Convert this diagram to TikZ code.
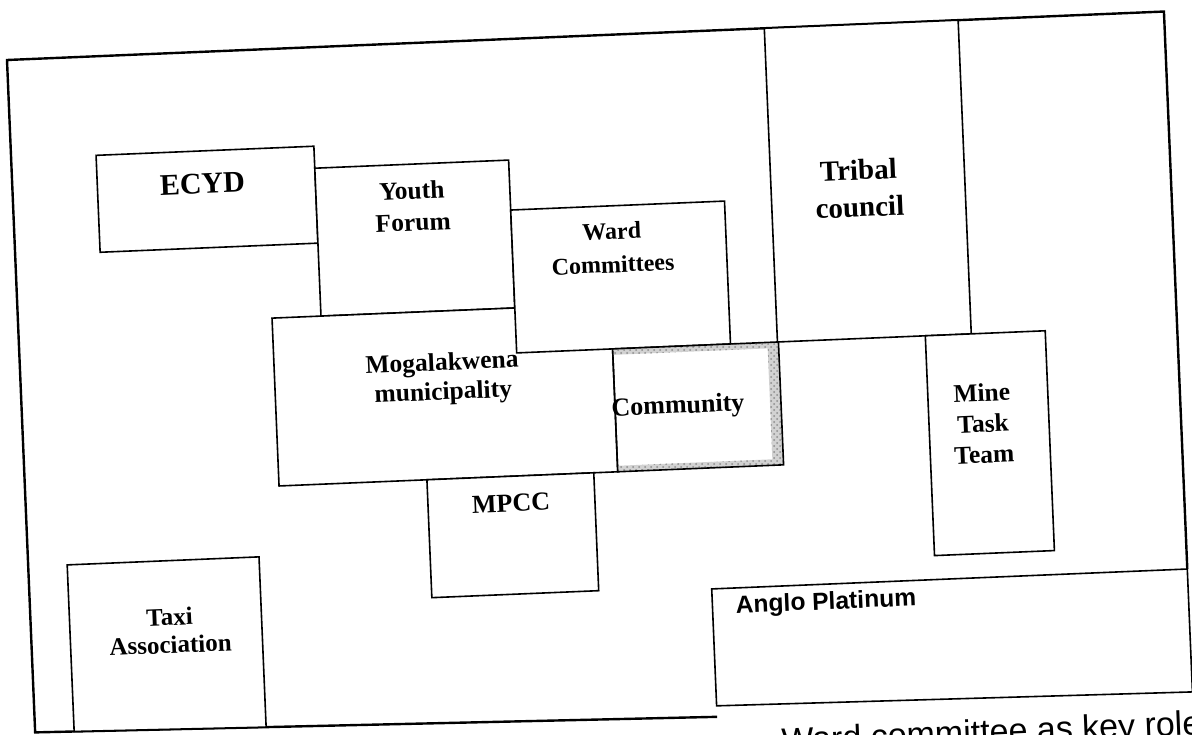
\documentclass[tikz,border=0pt]{standalone}
\usepackage{fontspec}
\setmainfont{Liberation Serif}
\newfontfamily\arialfont{Liberation Sans}
\usepackage{tikz}
\usetikzlibrary{positioning,patterns}

\begin{document}
\begin{tikzpicture}[x=0.5pt,y=-0.5pt,
        box/.style={draw,line width=0.8pt,fill=white},
        frame/.style={draw,line width=1.2pt},
        lbl/.style={align=center,inner sep=0pt,font=\bfseries\fontsize{12.75}{16}\selectfont}]
    \path[use as bounding box,clip] (-7,-60) rectangle (1185,674);
    \begin{scope}[rotate=2.4,transform shape]
        % outer frame (its bottom runs in under Anglo Platinum)
        \draw[frame] (682,686) -- (0,673) -- (0,0) -- (1158,0) -- (1158,558);
        % boxes
        \draw[box] (758,0) rectangle (952,314);
        \draw[box] (85,99) rectangle (303,196);
        \draw[box] (303,121) rectangle (497,269);
        \draw[box] (254,269) rectangle (593,437);
        \draw[box] (497,171) rectangle (711,314);
        \fill[gray!35,even odd rule] (593,314) rectangle (759,437) (593,320) rectangle (748,431);
        \fill[pattern=crosshatch dots,pattern color=gray!90,even odd rule] (593,314) rectangle (759,437) (593,320) rectangle (748,431);
        \draw[line width=0.8pt] (593,314) rectangle (759,437);
        \draw[box] (402,437) rectangle (569,555);
        \draw[box] (39,507) -- (231,507) -- (231,677.4) -- (39,673.7) -- cycle;
        \draw[box] (906,314) rectangle (1026,534);
        \draw[box] (682,558) -- (1158,558) -- (1158,681) -- (682,675) -- cycle;

        % labels
        \node[lbl,font=\bfseries\fontsize{15}{18}\selectfont] (ecyd) at (190,132) {ECYD};
        \node[lbl] (youth) at (399,163) {Youth\\Forum};
        \node[lbl,font=\bfseries\fontsize{12}{16.5}\selectfont] (ward) at (597,213) {Ward\\Committees};
        \node[lbl,font=\bfseries\fontsize{14.5}{18.5}\selectfont] (tribal) at (846,164) {Tribal\\council};
        \node[lbl,font=\bfseries\fontsize{12.75}{14.6}\selectfont] (mog) at (422,337) {Mogalakwena\\municipality};
        \node[lbl,font=\bfseries\fontsize{13}{16}\selectfont] (comm) at (656,375) {Community};
        \node[lbl,font=\bfseries\fontsize{13}{16}\selectfont] (mpcc) at (485,464) {MPCC};
        \node[lbl,font=\bfseries\fontsize{12.5}{14}\selectfont] (taxi) at (139,577) {Taxi\\Association};
        \node[lbl,font=\bfseries\fontsize{12.75}{15.5}\selectfont] (mtt) at (960,404) {Mine\\Task\\Team};
        \node[anchor=west,inner sep=0pt,font=\arialfont\bfseries\fontsize{12.3}{15}\selectfont] (anglo) at (705,577) {Anglo Platinum};
        \node[anchor=base west,inner sep=0pt,font=\arialfont\fontsize{17}{20}\selectfont] (caption) at (745,724) {Ward committee as key role};
    \end{scope}
\end{tikzpicture}
\end{document}
